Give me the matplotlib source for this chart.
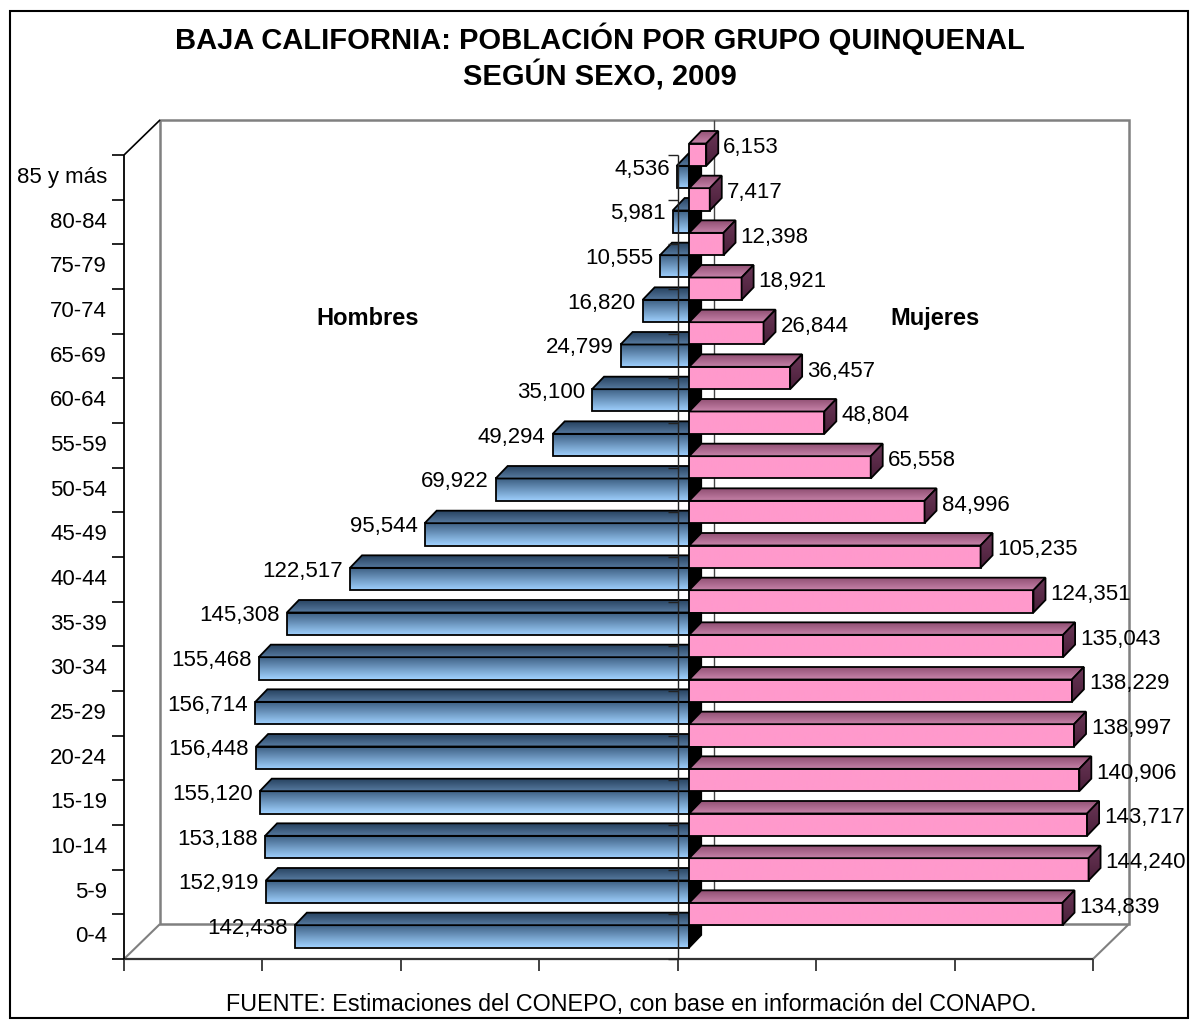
import numpy as np
import matplotlib
matplotlib.use('Agg')
import matplotlib.pyplot as plt
from matplotlib.patches import Polygon, Rectangle
from matplotlib.colors import LinearSegmentedColormap

plt.rcParams['font.family'] = ['Liberation Sans', 'DejaVu Sans']

# datos: grupos de edad (de abajo hacia arriba)
grupos = ['0-4', '5-9', '10-14', '15-19', '20-24', '25-29', '30-34', '35-39',
          '40-44', '45-49', '50-54', '55-59', '60-64', '65-69', '70-74',
          '75-79', '80-84', '85 y más']
hombres = [142438, 152919, 153188, 155120, 156448, 156714, 155468, 145308,
           122517, 95544, 69922, 49294, 35100, 24799, 16820, 10555, 5981, 4536]
mujeres = [134839, 144240, 143717, 140906, 138997, 138229, 135043, 124351,
           105235, 84996, 65558, 48804, 36457, 26844, 18921, 12398, 7417, 6153]
x_ticks = [-200000, -150000, -100000, -50000, 0, 50000, 100000, 150000]

titulo = 'BAJA CALIFORNIA: POBLACIÓN POR GRUPO QUINQUENAL\nSEGÚN SEXO, 2009'
fuente = 'FUENTE: Estimaciones del CONEPO, con base en información del CONAPO.'

W, H = 1190, 1021
fig = plt.figure(figsize=(W / 100, H / 100), dpi=100)
ax = fig.add_axes([0, 0, 1, 1])
ax.axis('off')

# front plane of the 3D box, in pixels
X0PX, X1PX = 124, 1093
Y0PX, Y1PX = 959, 155
XMIN, XMAX = x_ticks[0], x_ticks[-1]
n = len(grupos)
PX = (XMAX - XMIN) / (X1PX - X0PX)
PY = n / (Y0PX - Y1PX)


def dx(p):
    return p * PX


def dy(p):
    return p * PY


# depth offsets
FX, FY = dx(11.5), dy(11.5)   # bar front
BX, BY = dx(23.5), dy(24)     # bar back
WX, WY = dx(36), dy(35)       # back wall

GRIS = '#808080'


def line(xs, ys, color='black', lw=1.2, z=2):
    ax.plot(xs, ys, color=color, lw=lw, zorder=z, solid_capstyle='butt')


def face(verts, c_up, c_down, z):
    poly = Polygon(verts, closed=True, facecolor='none', edgecolor='black',
                   lw=1.3, zorder=z + 0.5, joinstyle='miter')
    ax.add_patch(poly)
    xs = [v[0] for v in verts]
    ys = [v[1] for v in verts]
    cmap = LinearSegmentedColormap.from_list('g', [c_down, c_up])
    im = ax.imshow(np.linspace(0, 1, 64).reshape(-1, 1), cmap=cmap,
                   extent=(min(xs), max(xs), min(ys), max(ys)),
                   origin='lower', aspect='auto', zorder=z,
                   interpolation='bilinear')
    im.set_clip_path(poly)


# walls
back = Polygon([(XMIN + WX, WY), (XMAX + WX, WY), (XMAX + WX, n + WY),
                (XMIN + WX, n + WY)], closed=True, facecolor='none',
               edgecolor=GRIS, lw=1.8, zorder=1)
ax.add_patch(back)
line([XMIN, XMIN + WX], [0, WY], GRIS, 1.5, 1)
line([XMAX, XMAX + WX], [0, WY], GRIS, 1.5, 1)
line([XMIN, XMIN + WX], [n, n + WY], 'black', 1.2, 1)
line([WX, WX], [WY, n + WY], '#444444', 1.0, 1)

# axes
line([XMIN, XMAX], [0, 0], '#333333', 1.6, 3)
for t in x_ticks:
    line([t, t], [0, -dy(12)], '#333333', 1.3, 3)
line([XMIN, XMIN], [0, n], 'black', 1.3, 3)
for k in range(n + 1):
    line([XMIN, XMIN - dx(12)], [k, k], 'black', 1.2, 3)
for i, g in enumerate(grupos):
    ax.text(XMIN - dx(17), i + 0.5, g, ha='right', va='center', fontsize=16)

# bars, drawn from the top group down
for i in range(n - 1, -1, -1):
    z = 10 + (n - 1 - i) * 10
    m = hombres[i]
    f = mujeres[i]
    # hombres (lower half of the group)
    y0, y1 = i + FY, i + 0.5 + FY
    face([(-m + FX, y0), (FX, y0), (FX, y1), (-m + FX, y1)],
         '#3b5d80', '#9ecffd', z + 1)
    face([(-m + FX, y1), (FX, y1), (BX, i + 0.5 + BY), (-m + BX, i + 0.5 + BY)],
         '#25405e', '#56799e', z + 2)
    face([(FX, y0), (FX, y1), (BX, i + 0.5 + BY), (BX, i + BY)],
         '#000000', '#000000', z + 3)
    ax.text(-m + FX - dx(7), i + 0.25 + FY + dy(8), f'{m:,}',
            ha='right', va='center', fontsize=16, zorder=z + 4)
    # mujeres (upper half of the group)
    y0, y1 = i + 0.5 + FY, i + 1 + FY
    face([(FX, y0), (f + FX, y0), (f + FX, y1), (FX, y1)],
         '#ff99cc', '#ff99cc', z + 5)
    face([(FX, y1), (f + FX, y1), (f + BX, i + 1 + BY), (BX, i + 1 + BY)],
         '#8e4d71', '#c682a8', z + 6)
    face([(f + FX, y0), (f + FX, y1), (f + BX, i + 1 + BY), (f + BX, i + 0.5 + BY)],
         '#6a3656', '#4a1f3a', z + 7)
    ax.text(f + BX + dx(5), i + 0.75 + FY + dy(7), f'{f:,}',
            ha='left', va='center', fontsize=16, zorder=z + 8)

# zero axis over the bars
line([0, 0], [0, n], '#222222', 1.0, 500)
for k in range(n + 1):
    line([0, -dx(10)], [k, k], '#222222', 1.0, 500)

ax.text(-112000, 14.35, 'Hombres', ha='center', va='center',
        fontsize=17, fontweight='bold')
ax.text(93000, 14.35, 'Mujeres', ha='center', va='center',
        fontsize=17, fontweight='bold')

ax.set_xlim(XMIN - X0PX * PX, XMIN + (W - X0PX) * PX)
ax.set_ylim(-(H - Y0PX) * PY, Y0PX * PY)

fig.text(600 / W, 1 - 57 / H, titulo, ha='center', va='center',
         fontsize=21, fontweight='bold', linespacing=1.2)
fig.text(631 / W, 1 - 1004 / H, fuente, ha='center', va='center', fontsize=16.8)
fig.add_artist(Rectangle((10 / W, 3 / H), 1178 / W, 1007 / H,
                         transform=fig.transFigure, facecolor='none',
                         edgecolor='black', lw=1.5))

fig.savefig('out.png', dpi=100)
